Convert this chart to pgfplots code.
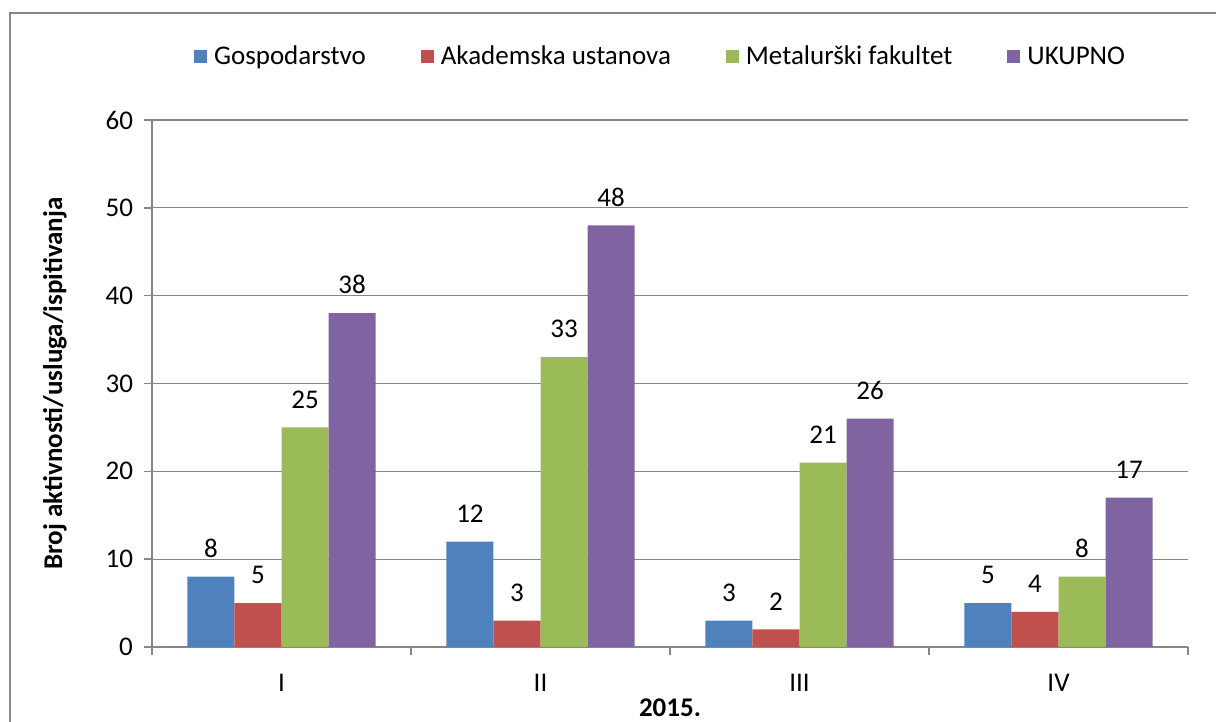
\documentclass[border=0pt]{standalone}
\usepackage{pgfplots}
\pgfplotsset{compat=1.18}
\usepackage{fontspec}
\setmainfont{Carlito}
\definecolor{cblue}{HTML}{4F81BD}
\definecolor{cred}{HTML}{C0504D}
\definecolor{cgreen}{HTML}{9BBB59}
\definecolor{cpurple}{HTML}{8064A2}
\definecolor{axgray}{HTML}{868686}
\newcommand{\lbl}{\fontsize{13.5}{16}\selectfont}

\begin{document}
\begin{tikzpicture}
\useasboundingbox (0,0) rectangle (608pt,361pt);
% outer chart frame
\draw[axgray,line width=1pt] (5pt,0pt) -- (5pt,354.5pt) -- (608pt,354.5pt);
\begin{axis}[
    at={(76pt,37.5pt)}, anchor=south west,
    scale only axis, width=518pt, height=263.5pt,
    clip=false,
    ybar=0pt, bar width=0.1815,
    xmin=-0.5, xmax=3.5, ymin=0, ymax=60,
    xtick={0,1,2,3}, xticklabels={I,II,III,IV},
    major x tick style={draw=none},
    minor xtick={-0.5,0.5,1.5,2.5,3.5},
    ytick={0,10,20,30,40,50,60},
    ymajorgrids, grid style={axgray,line width=0.6pt},
    axis x line*=bottom, axis y line*=left,
    axis line style={axgray,line width=0.75pt,-},
    tick align=outside, major tick length=4pt, minor tick length=4pt,
    tick style={axgray,line width=0.75pt},
    /pgf/number format/assume math mode=true,
    ticklabel style={font=\lbl},
    xticklabel style={yshift=-6pt},
    yticklabel style={xshift=-2pt},
    nodes near coords,
    nodes near coords style={font=\lbl,anchor=south,yshift=6pt,black},
    legend style={at={(0.5,1)},anchor=center,yshift=31.5pt,xshift=-3.5pt,
                  draw=none,legend columns=4,font=\lbl,
                  nodes={inner xsep=3.5pt},
                  /tikz/every even column/.append style={column sep=24pt}},
    legend image code/.code={\fill[#1] (0pt,-3.25pt) rectangle (6.5pt,3.25pt);},
]
  \addplot[fill=cblue,draw=none] coordinates {(0,8) (1,12) (2,3) (3,5)};
  \addplot[fill=cred,draw=none] coordinates {(0,5) (1,3) (2,2) (3,4)};
  \addplot[fill=cgreen,draw=none] coordinates {(0,25) (1,33) (2,21) (3,8)};
  \addplot[fill=cpurple,draw=none] coordinates {(0,38) (1,48) (2,26) (3,17)};
  \legend{Gospodarstvo, Akademska ustanova, Metalurški fakultet, UKUPNO}

  \node[font=\lbl\bfseries,anchor=center] at ([yshift=-30.5pt]axis description cs:0.5,0) {2015.};
  \node[font=\lbl\bfseries,rotate=90,anchor=center] at ([xshift=-48.5pt]axis description cs:0,0.5) {Broj aktivnosti/usluga/ispitivanja};
\end{axis}
\end{tikzpicture}
\end{document}
